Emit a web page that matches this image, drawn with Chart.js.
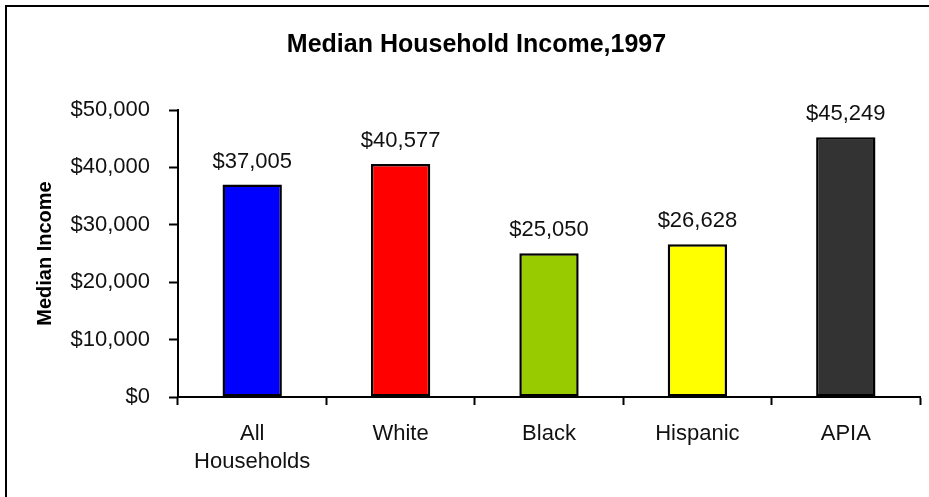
<!DOCTYPE html>
<html>
<head>
<meta charset="utf-8">
<title>Median Household Income, 1997</title>
<script src="https://cdn.jsdelivr.net/npm/chart.js@4"></script>
<style>
  html, body { margin: 0; padding: 0; background: #fff; }
  #wrap { width: 929px; height: 497px; position: relative; }
</style>
</head>
<body>
<div id="wrap"><canvas id="incomeChart" width="929" height="497"></canvas></div>
<script>
const groups = [['All', 'Households'], 'White', 'Black', 'Hispanic', 'APIA']
const medianIncome = [37005, 40577, 25050, 26628, 45249]
const barColors = ['#0000ff', '#ff0000', '#99cc00', '#ffff00', '#333333']
const yTicks = [0, 10000, 20000, 30000, 40000, 50000]

const dollars = (v) => '$' + v.toLocaleString('en-US')
const FONT = "'Liberation Sans', Arial, sans-serif"

// frame line along the top and left edges of the picture
const framePlugin = {
  id: 'frame',
  beforeDraw(chart) {
    const c = chart.ctx
    c.save()
    c.fillStyle = '#fff'
    c.fillRect(0, 0, chart.width, chart.height)
    c.strokeStyle = '#000'
    c.lineWidth = 2
    c.beginPath()
    c.moveTo(chart.width, 6)
    c.lineTo(6, 6)
    c.lineTo(6, chart.height)
    c.stroke()
    c.restore()
  }
}

// value printed above each bar
const valueLabels = {
  id: 'valueLabels',
  afterDatasetsDraw(chart) {
    const c = chart.ctx
    const meta = chart.getDatasetMeta(0)
    c.save()
    c.font = '22px ' + FONT
    c.fillStyle = '#111'
    c.textAlign = 'center'
    c.textBaseline = 'middle'
    meta.data.forEach((bar, i) => {
      c.fillText(dollars(medianIncome[i]), bar.x, bar.y - 23)
    })
    c.restore()
  }
}

new Chart(document.getElementById('incomeChart'), {
  type: 'bar',
  data: {
    labels: groups,
    datasets: [{
      data: medianIncome,
      backgroundColor: barColors,
      borderColor: '#000',
      borderWidth: 2.5,
      borderSkipped: false,
      barPercentage: 0.4,
      categoryPercentage: 1
    }]
  },
  options: {
    responsive: false,
    animation: false,
    layout: { padding: { left: 33, right: 9, top: 5, bottom: 0 } },
    plugins: {
      legend: { display: false },
      tooltip: { enabled: false },
      title: {
        display: true,
        text: 'Median Household Income,1997',
        color: '#000',
        font: { family: FONT, size: 25, weight: 'bold' },
        padding: { top: 25, bottom: 50 }
      }
    },
    scales: {
      x: {
        afterFit: (s) => { s.height = 100 },
        border: { color: '#000', width: 2 },
        grid: {
          drawOnChartArea: false,
          drawTicks: true,
          tickLength: 8,
          tickWidth: 2,
          tickColor: '#000',
          offset: true
        },
        ticks: {
          color: '#111',
          padding: 15,
          font: { family: FONT, size: 22, lineHeight: 1.27 },
          maxRotation: 0
        }
      },
      y: {
        min: 0,
        max: 50000,
        afterFit: (s) => { s.width = 178 - 33 },
        afterBuildTicks: (s) => { s.ticks = yTicks.map((v) => ({ value: v })) },
        border: { color: '#000', width: 2 },
        grid: {
          drawOnChartArea: false,
          drawTicks: true,
          tickLength: 9,
          tickWidth: 2,
          tickColor: '#000'
        },
        ticks: {
          color: '#111',
          padding: 19,
          font: { family: FONT, size: 22 },
          callback: (v) => dollars(v)
        },
        title: {
          display: true,
          text: 'Median Income',
          color: '#000',
          font: { family: FONT, size: 20, weight: 'bold' },
          padding: 0
        }
      }
    }
  },
  plugins: [framePlugin, valueLabels]
})
</script>
</body>
</html>
